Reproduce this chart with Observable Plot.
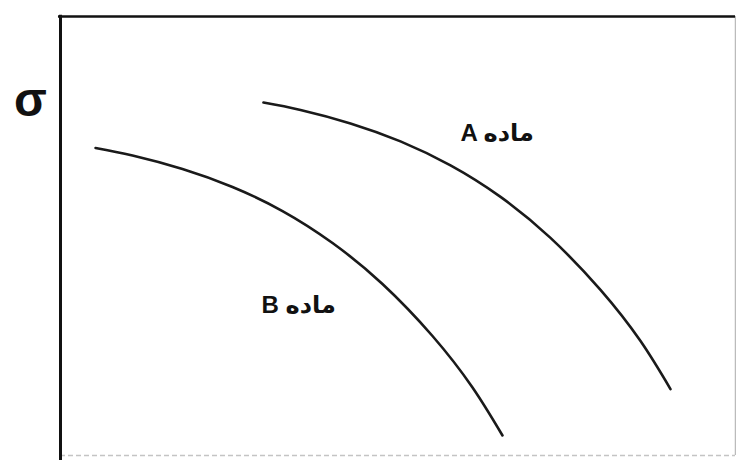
<!DOCTYPE html>
<html>
<head>
<meta charset="utf-8">
<script src="https://cdn.jsdelivr.net/npm/d3@7"></script>
<script src="https://cdn.jsdelivr.net/npm/@observablehq/plot@0.6"></script>
<style>
  html, body { margin: 0; padding: 0; background: #fff; }
  svg { display: block; }
</style>
</head>
<body>
<div id="chart"></div>
<script>
// Material A curve (strain-like x, stress σ y), arbitrary units 0..100
const aX = [30.07, 35.56, 42.96, 50.37, 57.78, 65.19, 72.59, 80.00, 85.93, 90.37];
const aY = [80.41, 78.72, 75.65, 71.55, 66.08, 58.91, 49.57, 37.72, 26.06, 15.13];
// Material B curve
const bX = [5.19, 10.67, 18.07, 25.48, 32.89, 40.30, 47.70, 55.11, 61.04, 65.48];
const bY = [70.05, 68.34, 65.26, 61.16, 55.69, 48.41, 39.07, 27.22, 15.49, 4.56];
// Labels
const labelText = ["A ماده", "B ماده"];
const labelX = [64.7, 35.3];
const labelY = [73.3, 34.2];
const axisLabel = "σ";
const axisLabelY = 80.9;

const lineA = aX.map((x, i) => ({x, y: aY[i], s: "A"}));
const lineB = bX.map((x, i) => ({x, y: bY[i], s: "B"}));
const labels = labelText.map((t, i) => ({t, x: labelX[i], y: labelY[i]}));

const font = "'Liberation Sans', 'DejaVu Sans', Arial, sans-serif";

const chart = Plot.plot({
  width: 736,
  height: 460,
  marginLeft: 60,
  marginRight: 1,
  marginTop: 16,
  marginBottom: 5,
  x: {domain: [0, 100], axis: null},
  y: {domain: [0, 100], axis: null},
  style: {fontFamily: font, background: "#fff"},
  marks: [
    // frame
    Plot.ruleY([0], {stroke: "#c4c4c4", strokeWidth: 1.5, strokeDasharray: "5,3"}),
    Plot.ruleX([100], {stroke: "#bbb", strokeWidth: 1.5}),
    Plot.ruleY([100], {x1: -0.3, x2: 100, stroke: "#111", strokeWidth: 2.5}),
    Plot.ruleX([0], {y1: -1.5, y2: 100.3, stroke: "#111", strokeWidth: 3}),
    // curves
    Plot.line(lineA, {x: "x", y: "y", curve: "natural", stroke: "#1a1a1a", strokeWidth: 2.6}),
    Plot.line(lineB, {x: "x", y: "y", curve: "natural", stroke: "#1a1a1a", strokeWidth: 2.6}),
    // labels
    Plot.text(labels, {x: "x", y: "y", text: "t", fontSize: 24, fontWeight: "bold", fill: "#111"}),
    Plot.text([axisLabel], {x: 0, y: axisLabelY, text: d => d, dx: -30, fontSize: 48, fontWeight: "bold", fill: "#111", lineAnchor: "middle"})
  ]
});
document.getElementById("chart").appendChild(chart);
</script>
</body>
</html>
